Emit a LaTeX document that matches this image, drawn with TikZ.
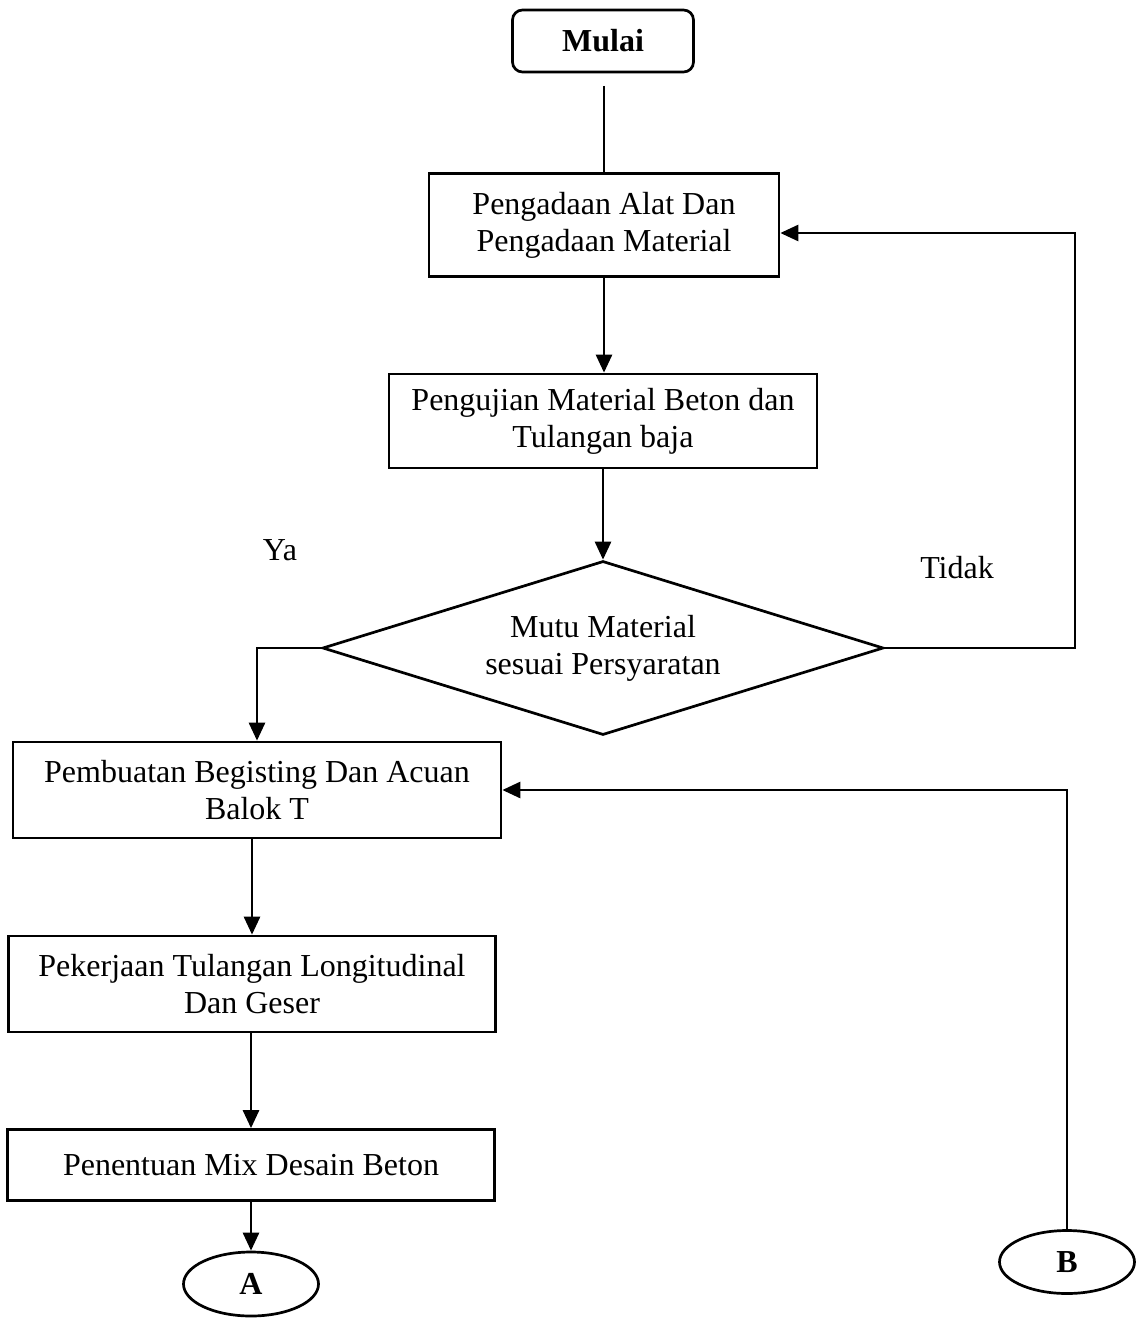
\documentclass[tikz,border=0pt]{standalone}
\usepackage{fontspec}
\setmainfont{Liberation Serif}
\usetikzlibrary{shapes.geometric,arrows.meta}
\begin{document}
\begin{tikzpicture}[x=1pt,y=-1pt,
  every node/.style={font=\fontsize{32}{37}\selectfont},
  procbox/.style={draw,line width=2.7pt,rectangle,inner sep=0pt,align=center},
  termbox/.style={draw,line width=2.7pt,rounded corners=10pt,inner sep=0pt,font=\fontsize{32}{37}\selectfont\bfseries},
  connbox/.style={draw,line width=2.7pt,ellipse,inner sep=0pt,font=\fontsize{32}{37}\selectfont\bfseries},
  decbox/.style={draw,line width=2.7pt,diamond,aspect=3.22,inner sep=0pt,align=center},
  lab/.style={inner sep=0pt},
  conn/.style={line width=2.7pt},
  arr/.style={line width=2.7pt,-{Triangle[length=18pt,width=16pt]}}]
\useasboundingbox (0,0) rectangle (1138,1319);
\node[termbox,minimum width=181pt,minimum height=62pt] (mulai) at (603,41) {Mulai};
\node[procbox,minimum width=350pt,minimum height=103pt] (b1) at (604,225) {Pengadaan Alat Dan\\Pengadaan Material};
\node[procbox,minimum width=428pt,minimum height=94pt] (b2) at (603,421) {Pengujian Material Beton dan\\Tulangan baja};
\node[decbox,minimum width=561pt,minimum height=174pt] (d) at (603,648) {Mutu Material\\sesuai Persyaratan};
\node[procbox,minimum width=488pt,minimum height=96pt] (b3) at (257,790) {Pembuatan Begisting Dan Acuan\\Balok T};
\node[procbox,minimum width=487pt,minimum height=96pt] (b4) at (252,984) {Pekerjaan Tulangan Longitudinal\\Dan Geser};
\node[procbox,minimum width=487pt,minimum height=71pt] (b5) at (251,1165) {Penentuan Mix Desain Beton};
\node[connbox,minimum width=135pt,minimum height=64pt] (A) at (251,1284) {A};
\node[connbox,minimum width=135pt,minimum height=63pt] (B) at (1067,1262) {B};
\node[lab] (ya) at (280,550) {Ya};
\node[lab] (tidak) at (957,568) {Tidak};
\coordinate (ms) at (604,86);
\coordinate (tR) at (1075,233);
\draw[conn] (ms) -- (ms |- b1.north);
\draw[arr] (b1.south) -- (b1.south |- b2.north);
\draw[arr] (b2.south) -- (d.north);
\draw[arr] (d.west) -| (b3.north);
\draw[arr] (d.east) -| (tR) -- (b1.east |- tR);
\draw[arr] (b4.north |- b3.south) -- (b4.north);
\draw[arr] (b5.north |- b4.south) -- (b5.north);
\draw[arr] (b5.south) -- (A.north);
\draw[arr] (B.north) |- (b3.east);
\end{tikzpicture}
\end{document}
